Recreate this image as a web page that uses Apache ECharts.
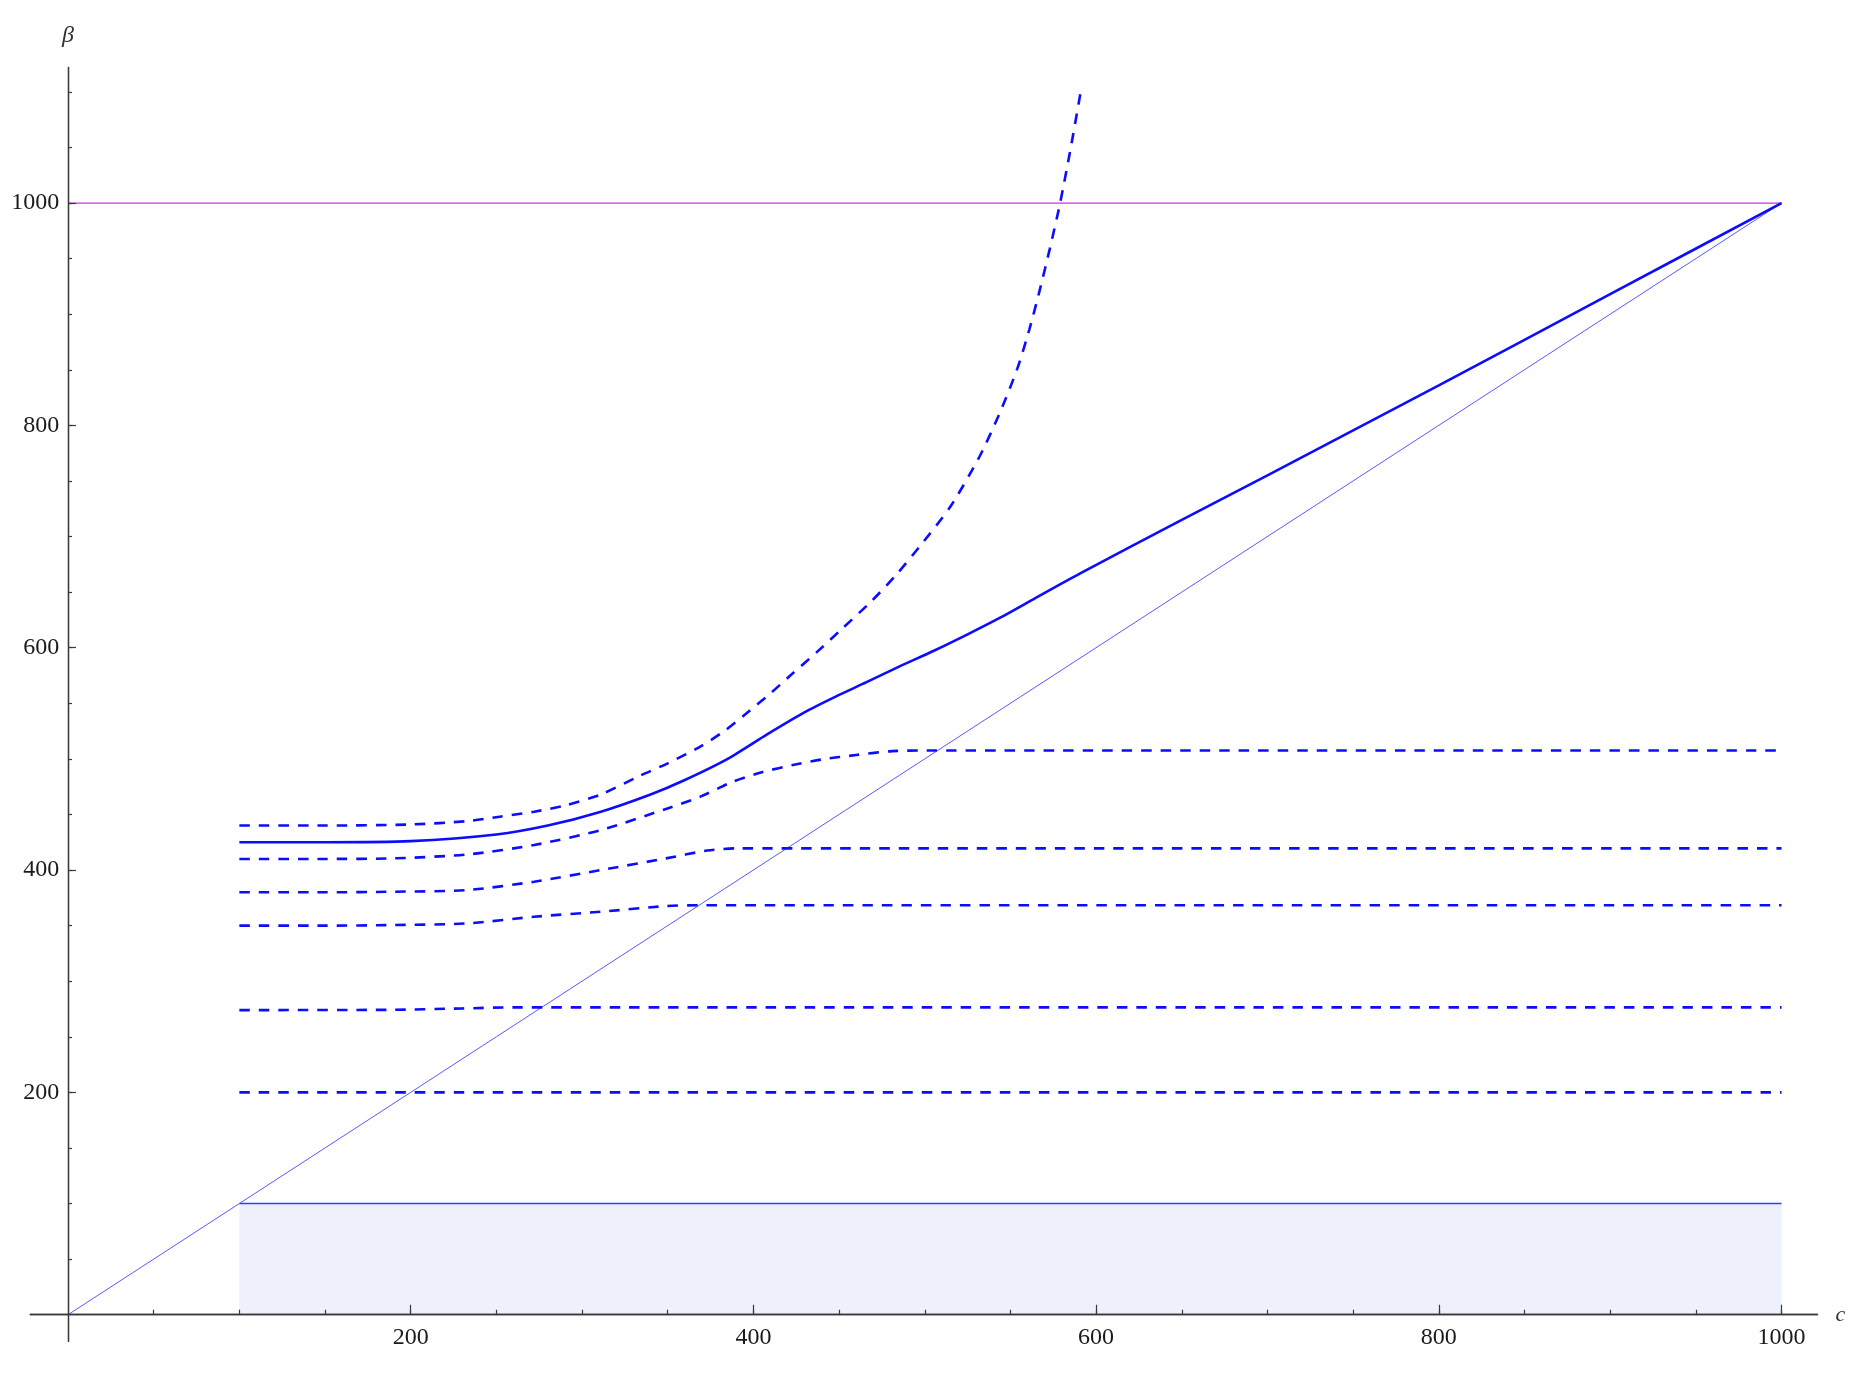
<!DOCTYPE html>
<html><head><meta charset="utf-8">
<script src="https://cdn.jsdelivr.net/npm/echarts@6/dist/echarts.min.js"></script>
<style>html,body{margin:0;padding:0;background:#fff}#c{width:1867px;height:1373px}</style>
</head><body><div id="c"></div>
<script>
// ---- tick positions ----
const xMajorTicks = [200, 400, 600, 800, 1000];
const xMinorTicks = [50, 100, 150, 200, 250, 300, 350, 400, 450, 500, 550, 600, 650, 700, 750, 800, 850, 900, 950, 1000];
const yMajorTicks = [200, 400, 600, 800, 1000];
const yMinorTicks = [50, 100, 150, 200, 250, 300, 350, 400, 450, 500, 550, 600, 650, 700, 750, 800, 850, 900, 950, 1000, 1050, 1100];

// ---- reference lines ----
const magentaC = [0, 1000];
const magentaB = [1000, 1000];
const diagC = [0, 1000];
const diagB = [0, 1000];
const boxC = [100, 1000];
const boxB = [100, 100];

// ---- solid curve ----
const solidC = [100, 150, 200, 250, 280, 310, 340, 360, 385, 408, 430, 448, 466, 485, 505, 525, 544, 565, 591, 650, 700, 800, 900, 1000];
const solidB = [425, 425, 426, 432, 440, 452, 468, 481, 500, 522, 542, 556, 569, 583, 597, 612, 627, 645, 667, 715, 755, 836, 918, 1000];

// ---- dashed curves ----
const d1C = [100, 150, 200, 233, 252, 272, 290, 311, 334, 350, 369, 383, 396, 410, 423, 437, 451, 469, 483, 497, 515, 532, 544, 554, 561, 567, 573, 579, 585, 591];
const d1B = [440, 440, 441, 444, 448, 452.5, 458, 468, 485, 496, 511, 525, 541, 559, 577, 596, 616, 642, 665, 691, 727, 772, 812, 851, 886, 921, 959, 1000, 1048, 1100];

const d2C = [100, 150, 190, 233, 272, 311, 349, 369, 388, 405, 423, 440, 460, 481, 500, 1000];
const d2B = [410, 410, 410.5, 414, 422.5, 436, 455, 466, 479.5, 488, 494.5, 499.5, 503.5, 507, 507.5, 507.5];

const d3C = [100, 150, 190, 233, 272, 311, 349, 373, 390, 1000];
const d3B = [380, 380, 380.5, 382, 389.5, 400, 410.5, 417.5, 419.5, 419.5];

const d4C = [100, 150, 190, 233, 272, 311, 349, 368, 1000];
const d4B = [350, 350, 350.5, 352, 358, 362.5, 367.6, 368.3, 368.3];

const d5C = [100, 190, 230, 260, 1000];
const d5B = [274, 274.3, 275.5, 276.5, 276.5];

const d6C = [100, 1000];
const d6B = [200, 200];

const zip = (a, b) => a.map((v, i) => [v, b[i]]);

const serif = 'Liberation Serif';
const axisColor = '#3a3a3a';
const X_MIN = -22, X_MAX = 1021, Y_MIN = -24, Y_MAX = 1122;
const plain = v => String(v);

const chart = echarts.init(document.getElementById('c'), null, {renderer: 'canvas'});

const dashStyle = {color: '#0c0cff', width: 2.6, type: [10.5, 9]};
function dashed(c, b) {
  return {type: 'line', data: zip(c, b), showSymbol: false, smooth: 0.25,
    lineStyle: dashStyle, silent: true, z: 5};
}

chart.setOption({
  animation: false,
  backgroundColor: '#fff',
  grid: {left: 30.3, right: 49.5, top: 67.4, bottom: 31.6, containLabel: false, outerBoundsMode: 'none'},
  xAxis: [
    {type: 'value', min: X_MIN, max: X_MAX, position: 'bottom', z: 10,
      axisLine: {show: true, onZero: true, onZeroAxisIndex: 0, lineStyle: {color: axisColor, width: 1.3}},
      axisTick: {show: true, inside: true, length: 10, customValues: xMajorTicks, lineStyle: {color: axisColor, width: 1.2}},
      axisLabel: {show: true, customValues: xMajorTicks, margin: -16, formatter: plain, fontFamily: serif, fontSize: 24, color: '#1a1a1a'},
      splitLine: {show: false},
      name: 'c', nameLocation: 'end', nameGap: 18,
      nameTextStyle: {fontFamily: serif, fontStyle: 'italic', fontSize: 22, color: '#333'}
    },
    {type: 'value', min: X_MIN, max: X_MAX, position: 'top', z: 10,
      axisLine: {show: true, onZero: true, onZeroAxisIndex: 0, lineStyle: {color: axisColor, width: 1.3}},
      axisTick: {show: true, inside: false, length: 5, customValues: xMinorTicks, lineStyle: {color: axisColor, width: 1.2}},
      axisLabel: {show: false},
      splitLine: {show: false}
    }
  ],
  yAxis: [
    {type: 'value', min: Y_MIN, max: Y_MAX, position: 'left', z: 10,
      axisLine: {show: true, onZero: true, onZeroAxisIndex: 0, lineStyle: {color: axisColor, width: 1.3}},
      axisTick: {show: true, inside: true, length: 8, customValues: yMajorTicks, lineStyle: {color: axisColor, width: 1.2}},
      axisLabel: {show: true, customValues: yMajorTicks, margin: -29, formatter: plain, fontFamily: serif, fontSize: 24, color: '#1a1a1a'},
      splitLine: {show: false},
      name: 'β', nameLocation: 'end', nameGap: 20,
      nameTextStyle: {fontFamily: serif, fontStyle: 'italic', fontSize: 24, color: '#333'}
    },
    {type: 'value', min: Y_MIN, max: Y_MAX, position: 'right', z: 10,
      axisLine: {show: true, onZero: true, onZeroAxisIndex: 0, lineStyle: {color: axisColor, width: 1.3}},
      axisTick: {show: true, inside: false, length: 4, customValues: yMinorTicks, lineStyle: {color: axisColor, width: 1.2}},
      axisLabel: {show: false},
      splitLine: {show: false}
    }
  ],
  series: [
    {type: 'line', data: zip(boxC, boxB), showSymbol: false, silent: true, z: 1,
      lineStyle: {color: '#3838ff', width: 1.4},
      areaStyle: {color: '#eef0fb', opacity: 1, origin: 0}},
    {type: 'line', data: zip(diagC, diagB), showSymbol: false, silent: true, z: 3,
      lineStyle: {color: '#5a5aff', width: 1}},
    {type: 'line', data: zip(magentaC, magentaB), showSymbol: false, silent: true, z: 3,
      lineStyle: {color: '#c832e6', width: 1.3}},
    {type: 'line', data: zip(solidC, solidB), showSymbol: false, silent: true, z: 6,
      smooth: 0.25, lineStyle: {color: '#0c0cff', width: 2.6}},
    dashed(d1C, d1B),
    dashed(d2C, d2B),
    dashed(d3C, d3B),
    dashed(d4C, d4B),
    dashed(d5C, d5B),
    dashed(d6C, d6B)
  ]
});
</script>
</body></html>
